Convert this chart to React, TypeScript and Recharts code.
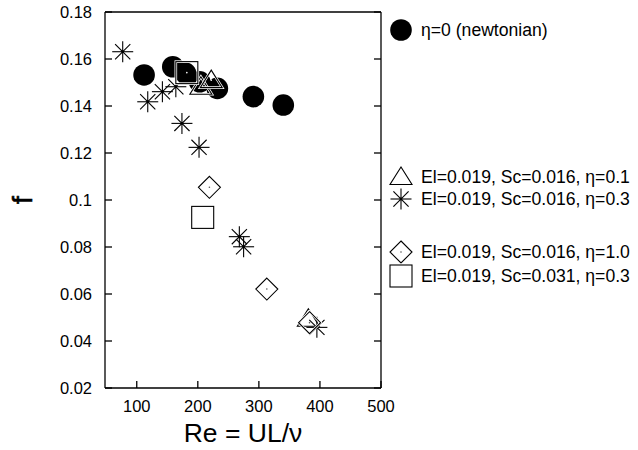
import React from 'react';
import { ScatterChart, Scatter, XAxis, YAxis, Legend, Label } from 'recharts';

// ---- data (Re, f) ----
const newtonianRe = [112, 159, 180, 203, 232, 291, 340];
const newtonianF = [0.1532, 0.1567, 0.1539, 0.1503, 0.1475, 0.144, 0.1404];

const eta01Re = [205, 222, 381];
const eta01F = [0.1482, 0.151, 0.0495];

const eta03Re = [77, 118, 142, 164, 174, 202, 268, 275, 395];
const eta03F = [0.1631, 0.1418, 0.1461, 0.1482, 0.1326, 0.1224, 0.0844, 0.0801, 0.0458];

const eta10Re = [219, 313, 383];
const eta10F = [0.1054, 0.0621, 0.0478];

const sc031Re = [182, 208];
const sc031F = [0.1542, 0.0926];

const xTicks = [100, 200, 300, 400, 500];
const yTicks = [0.02, 0.04, 0.06, 0.08, 0.1, 0.12, 0.14, 0.16, 0.18];
const xDomain = [48, 500];
const yDomain = [0.02, 0.18];

const seriesNames = [
  'η=0 (newtonian)',
  'El=0.019, Sc=0.016, η=0.1',
  'El=0.019, Sc=0.016, η=0.3',
  'El=0.019, Sc=0.016, η=1.0',
  'El=0.019, Sc=0.031, η=0.3',
];

const zip = (xs: number[], ys: number[]) => xs.map((x, i) => ({ x, y: ys[i] }));

const FONT = '"Liberation Sans", Arial, Helvetica, sans-serif';

// ---- symbols ----
const Circle = ({ cx, cy }: any) => <circle cx={cx} cy={cy} r={10.8} fill="#000" />;

const Triangle = ({ cx, cy }: any) => {
  const pts = `${cx},${cy - 10} ${cx - 11},${cy + 7.5} ${cx + 11},${cy + 7.5}`;
  return (
    <g>
      <polygon points={pts} fill="none" stroke="#fff" strokeWidth={2.6} />
      <polygon points={pts} fill="none" stroke="#000" strokeWidth={1.1} />
      <circle cx={cx} cy={cy} r={0.8} fill="#fff" />
    </g>
  );
};

const Star = ({ cx, cy }: any) => {
  const s = 10.5;
  const d = 7.6;
  return (
    <g stroke="#000" strokeWidth={1.1}>
      <line x1={cx - s} y1={cy} x2={cx + s} y2={cy} />
      <line x1={cx} y1={cy - s} x2={cx} y2={cy + s} />
      <line x1={cx - d} y1={cy - d} x2={cx + d} y2={cy + d} />
      <line x1={cx - d} y1={cy + d} x2={cx + d} y2={cy - d} />
      <circle cx={cx} cy={cy} r={1.4} fill="#000" stroke="none" />
    </g>
  );
};

const Diamond = ({ cx, cy }: any) => {
  const h = 11;
  const pts = `${cx},${cy - h} ${cx + h},${cy} ${cx},${cy + h} ${cx - h},${cy}`;
  return (
    <g>
      <polygon points={pts} fill="none" stroke="#fff" strokeWidth={2.6} />
      <polygon points={pts} fill="none" stroke="#000" strokeWidth={1.1} />
      <circle cx={cx} cy={cy} r={0.8} fill="#555" />
    </g>
  );
};

const Square = ({ cx, cy }: any) => {
  const h = 11;
  return (
    <g>
      <rect x={cx - h} y={cy - h} width={2 * h} height={2 * h} fill="none" stroke="#fff" strokeWidth={2.6} />
      <rect x={cx - h} y={cy - h} width={2 * h} height={2 * h} fill="none" stroke="#000" strokeWidth={1.1} />
      <circle cx={cx} cy={cy} r={0.8} fill="#fff" />
    </g>
  );
};

const shapes = [Circle, Triangle, Star, Diamond, Square];
const legendRowY = [30, 177, 199, 252, 276];

const LegendContent = () => (
  <svg width={638} height={450} style={{ position: 'absolute', left: 0, top: 0 }}>
    {seriesNames.map((name, i) => {
      const Sym = shapes[i];
      return (
        <g key={name}>
          <Sym cx={401} cy={legendRowY[i]} />
          <text
            x={421}
            y={legendRowY[i]}
            dy="0.35em"
            fontSize={17.6}
            fontFamily={FONT}
            fill="#000"
          >
            {name}
          </text>
        </g>
      );
    })}
  </svg>
);

const noTick = () => <g />;

export default function App() {
  const tickStyle = { fill: '#000', fontSize: 16.5, fontFamily: FONT };
  const lineProps = { stroke: '#000', strokeWidth: 1.3 };
  return (
    <div style={{ position: 'absolute', left: 0, top: 0, width: 638, height: 450, background: '#fff' }}>
      <ScatterChart width={638} height={450} margin={{ top: 11, right: 256, bottom: 0, left: 0 }}>
        <XAxis
          dataKey="x"
          type="number"
          domain={xDomain}
          allowDataOverflow
          ticks={xTicks}
          height={62}
          tickSize={-7}
          tickMargin={19}
          tick={tickStyle}
          stroke="#000"
          axisLine={lineProps}
          tickLine={lineProps}
        >
          <Label
            content={({ viewBox }: any) => (
              <text
                x={viewBox.x + viewBox.width / 2}
                y={viewBox.y + 54}
                textAnchor="middle"
                fontSize={26.5}
                fontFamily={FONT}
                fill="#000"
              >
                Re = UL/ν
              </text>
            )}
          />
        </XAxis>
        <XAxis
          xAxisId="top"
          orientation="top"
          type="number"
          domain={xDomain}
          allowDataOverflow
          ticks={xTicks}
          height={1}
          tickSize={-7}
          tick={noTick}
          stroke="#000"
          axisLine={lineProps}
          tickLine={lineProps}
        />
        <YAxis
          dataKey="y"
          type="number"
          domain={yDomain}
          allowDataOverflow
          ticks={yTicks}
          width={105}
          tickSize={-7}
          tickMargin={20}
          tick={tickStyle}
          tickFormatter={(v: number) => String(v)}
          stroke="#000"
          axisLine={lineProps}
          tickLine={lineProps}
        >
          <Label
            content={({ viewBox }: any) => {
              const cx = 31.5;
              const cy = viewBox.y + viewBox.height / 2;
              return (
                <text
                  x={cx}
                  y={cy}
                  textAnchor="middle"
                  transform={`rotate(-90 ${cx} ${cy})`}
                  fontSize={28}
                  fontFamily={FONT}
                  fill="#000"
                  stroke="#000"
                  strokeWidth={0.6}
                >
                  f
                </text>
              );
            }}
          />
        </YAxis>
        <YAxis
          yAxisId="right"
          orientation="right"
          type="number"
          domain={yDomain}
          allowDataOverflow
          ticks={yTicks}
          width={1}
          tickSize={-7}
          tick={noTick}
          stroke="#000"
          axisLine={lineProps}
          tickLine={lineProps}
        />
        <Legend
          layout="horizontal"
          verticalAlign="middle"
          align="center"
          wrapperStyle={{ left: 0, top: 0, width: 638, height: 450, pointerEvents: 'none' }}
          content={LegendContent}
        />
        <Scatter name={seriesNames[0]} data={zip(newtonianRe, newtonianF)} shape={Circle} isAnimationActive={false} />
        <Scatter name={seriesNames[1]} data={zip(eta01Re, eta01F)} shape={Triangle} isAnimationActive={false} />
        <Scatter name={seriesNames[2]} data={zip(eta03Re, eta03F)} shape={Star} isAnimationActive={false} />
        <Scatter name={seriesNames[3]} data={zip(eta10Re, eta10F)} shape={Diamond} isAnimationActive={false} />
        <Scatter name={seriesNames[4]} data={zip(sc031Re, sc031F)} shape={Square} isAnimationActive={false} />
      </ScatterChart>
    </div>
  );
}
